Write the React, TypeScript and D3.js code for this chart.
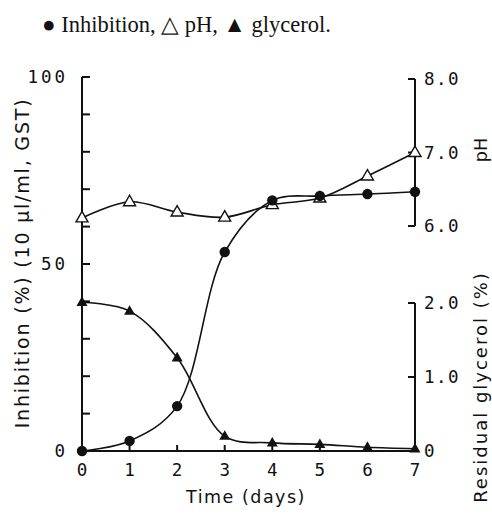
import React from "react";
import * as d3 from "d3";

const days = [0, 1, 2, 3, 4, 5, 6, 7];
const inhibition = [0, 2.7, 12, 53.2, 67, 68.2, 68.7, 69.3];
const pH = [6.11, 6.33, 6.19, 6.12, 6.29, 6.38, 6.68, 7.0];
const glycerol = [2.01, 1.89, 1.26, 0.2, 0.11, 0.09, 0.05, 0.03];

const inhTicks = [0, 10, 20, 30, 40, 50, 60, 70, 80, 90, 100];
const inhLabels = [0, 50, 100];
const phTicks = [6, 7, 8];
const phLabels = ["6.0", "7.0", "8.0"];
const glyTicks = [0, 1, 2];
const glyLabels = ["0", "1.0", "2.0"];

const x = d3.scaleLinear().domain([0, 7]).range([82, 415]);
const yInh = d3.scaleLinear().domain([0, 100]).range([451, 77]);
const yPH = d3.scaleLinear().domain([6, 8]).range([226, 79]);
const yGly = d3.scaleLinear().domain([0, 2]).range([451, 303]);

const mono = "'DejaVu Sans Mono', monospace";
const sans = "'DejaVu Sans', sans-serif";

function tri(cx: number, cy: number, s: number) {
  const h = s * 0.87;
  return `M${cx},${cy - h * 0.62}L${cx + s / 2},${cy + h * 0.38}L${cx - s / 2},${cy + h * 0.38}Z`;
}

export default function App() {
  const inhLine = d3
    .line<number>()
    .x((_, i) => x(days[i]))
    .y((d) => yInh(d))
    .curve(d3.curveCatmullRom.alpha(0.5));
  const phLine = d3
    .line<number>()
    .x((_, i) => x(days[i]))
    .y((d) => yPH(d))
    .curve(d3.curveCatmullRom.alpha(0.5));
  const glyLine = d3
    .line<number>()
    .x((_, i) => x(days[i]))
    .y((d) => yGly(d))
    .curve(d3.curveCatmullRom.alpha(0.5));

  return (
    <svg
      width={492}
      height={515}
      style={{ position: "absolute", left: 0, top: 0, background: "#fff" }}
    >
      <text x={42} y={32} fontFamily="'Liberation Serif', serif" fontSize={22.5} fill="#111">
        ● Inhibition, △ pH, ▲ glycerol.
      </text>

      {/* axes */}
      <g stroke="#111" strokeWidth={2} fill="none">
        <line x1={x(0)} x2={x(0)} y1={yInh(100)} y2={yInh(0)} />
        <line x1={x(0)} x2={x(7)} y1={yInh(0)} y2={yInh(0)} />
        <line x1={x(7)} x2={x(7)} y1={yPH(8)} y2={yPH(6)} />
        <line x1={x(7)} x2={x(7)} y1={yGly(2)} y2={yGly(0)} />
        {inhTicks.map((t) => (
          <line key={"it" + t} x1={x(0)} x2={x(0) + 8} y1={yInh(t)} y2={yInh(t)} />
        ))}
        {days.map((d) => (
          <line key={"xt" + d} x1={x(d)} x2={x(d)} y1={yInh(0)} y2={yInh(0) - 6} />
        ))}
        {phTicks.map((t) => (
          <line key={"pt" + t} x1={x(7)} x2={x(7) - 7} y1={yPH(t)} y2={yPH(t)} />
        ))}
        {glyTicks.map((t) => (
          <line key={"gt" + t} x1={x(7)} x2={x(7) - 7} y1={yGly(t)} y2={yGly(t)} />
        ))}
      </g>

      {/* tick labels */}
      <g fontFamily={mono} fontSize={17.5} fill="#111">
        {inhLabels.map((t) => (
          <text key={"il" + t} x={x(0) - 14} y={yInh(t)} textAnchor="end" dominantBaseline="central" letterSpacing={3}>
            {t}
          </text>
        ))}
        {days.map((d) => (
          <text key={"xl" + d} x={x(d)} y={470} textAnchor="middle" dominantBaseline="central">
            {d}
          </text>
        ))}
        {phTicks.map((t, i) => (
          <text key={"pl" + t} x={x(7) + 9} y={yPH(t)} dominantBaseline="central" letterSpacing={1.5}>
            {phLabels[i]}
          </text>
        ))}
        {glyTicks.map((t, i) => (
          <text key={"gl" + t} x={x(7) + 9} y={yGly(t)} dominantBaseline="central" letterSpacing={1.5}>
            {glyLabels[i]}
          </text>
        ))}
      </g>

      {/* axis titles */}
      <g fontFamily={sans} fill="#111">
        <text x={246} y={497} fontSize={17.5} textAnchor="middle" dominantBaseline="central" letterSpacing={1.5}>
          Time (days)
        </text>
        <text
          transform={`translate(22,263) rotate(-90)`}
          fontSize={19}
          textAnchor="middle"
          dominantBaseline="central"
          letterSpacing={1.8}
        >
          Inhibition (%) (10 μl/ml, GST)
        </text>
        <text transform={`translate(481,150) rotate(-90)`} fontSize={17.5} textAnchor="middle" dominantBaseline="central">
          pH
        </text>
        <text
          transform={`translate(480,387) rotate(-90)`}
          fontSize={18}
          textAnchor="middle"
          dominantBaseline="central"
          letterSpacing={2}
        >
          Residual glycerol (%)
        </text>
      </g>

      {/* curves */}
      <g fill="none" stroke="#111" strokeWidth={1.6}>
        <path d={inhLine(inhibition) || ""} />
        <path d={phLine(pH) || ""} />
        <path d={glyLine(glycerol) || ""} />
      </g>

      {/* markers */}
      {pH.map((v, i) => (
        <path key={"pm" + i} d={tri(x(days[i]), yPH(v), 12)} fill="#fff" stroke="#111" strokeWidth={1.4} />
      ))}
      {glycerol.map((v, i) => (
        <path key={"gm" + i} d={tri(x(days[i]), yGly(v), 11)} fill="#111" />
      ))}
      {inhibition.map((v, i) => (
        <circle key={"im" + i} cx={x(days[i])} cy={yInh(v)} r={5.2} fill="#111" />
      ))}
    </svg>
  );
}
